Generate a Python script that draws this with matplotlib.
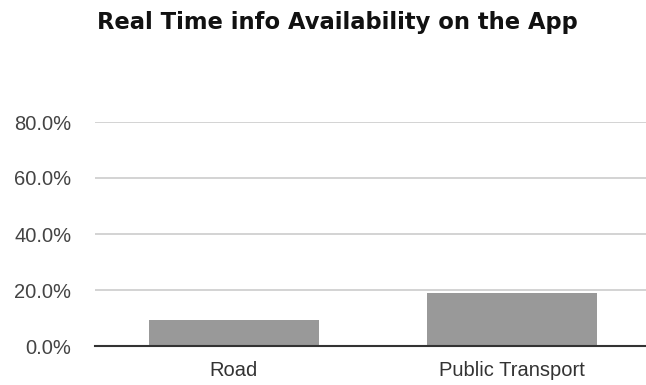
import matplotlib.pyplot as plt
from matplotlib.ticker import FuncFormatter

# values (percent)
categories = ['Road', 'Public Transport']
availability = [9.2, 18.9]
y_ticks = [0, 20, 40, 60, 80]

plt.rcParams['font.family'] = ['Liberation Sans', 'DejaVu Sans']

fig = plt.figure(figsize=(6.46, 3.85), dpi=100)
ax = fig.add_axes([95 / 646, 39 / 385, 556 / 646, 224 / 385])

x = range(len(categories))
ax.bar(x, availability, width=0.615, color='#999999', zorder=2)

ax.set_xlim(-0.5, len(categories) - 0.5)
ax.set_ylim(0, 80)
ax.set_yticks(y_ticks)
ax.yaxis.set_major_formatter(FuncFormatter(lambda v, p: f'{v:.1f}%'))
ax.set_xticks(list(x))
ax.set_xticklabels(categories)

ax.grid(axis='y', color='#cccccc', linewidth=1.2, zorder=0)
for s in ['top', 'right', 'left']:
    ax.spines[s].set_visible(False)
ax.spines['bottom'].set_color('#333333')
ax.spines['bottom'].set_linewidth(1.5)
ax.spines['bottom'].set_zorder(3)

ax.tick_params(axis='y', length=0, pad=17, labelsize=14.5, labelcolor='#444444')
ax.tick_params(axis='x', length=0, pad=11, labelsize=14.5, labelcolor='#333333')

fig.text(97 / 646, 1 - 29.5 / 385, 'Real Time info Availability on the App',
         family='DejaVu Sans', fontsize=16.3, fontweight='bold',
         ha='left', va='baseline', color='#111111')

fig.savefig('out.png', dpi=100)
